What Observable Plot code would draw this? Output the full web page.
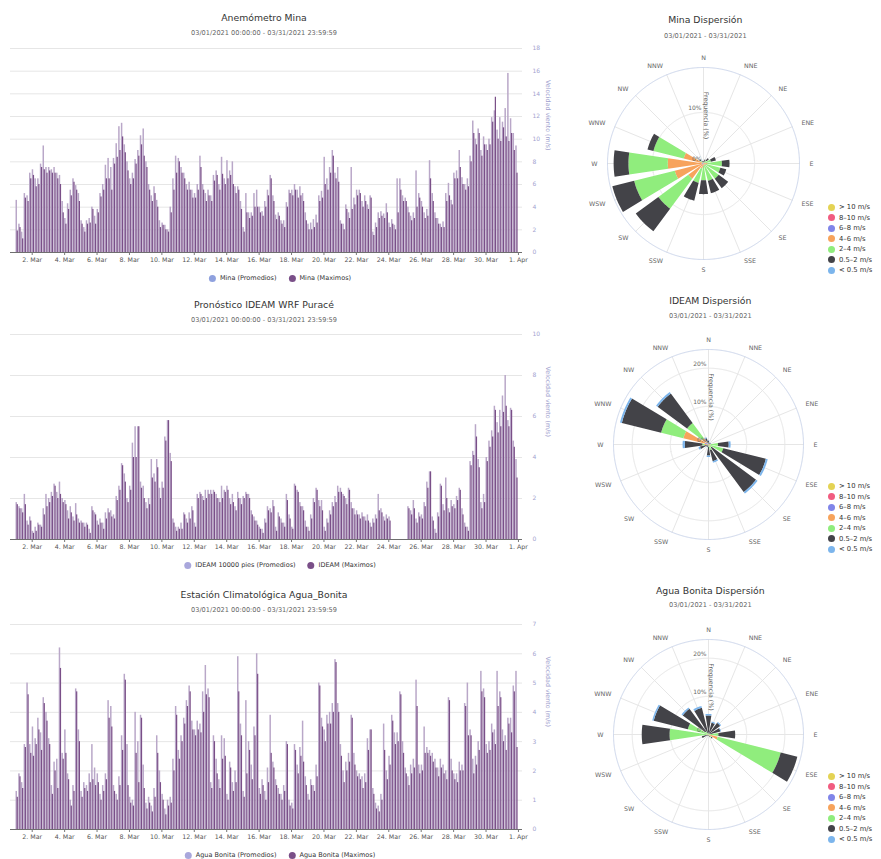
<!DOCTYPE html>
<html><head><meta charset="utf-8">
<script src="https://cdn.jsdelivr.net/npm/d3@7"></script>
<script src="https://cdn.jsdelivr.net/npm/@observablehq/plot@0.6"></script>
<style>
body{margin:0;background:#fff;font-family:"DejaVu Sans",sans-serif;}
#root{position:relative;width:881px;height:859px;overflow:hidden;background:#fff;}
.t{position:absolute;transform:translate(-50%,-50%);white-space:nowrap;color:#333;font-size:9.3px;}
.s{position:absolute;transform:translate(-50%,-50%);white-space:nowrap;color:#666;font-size:6.6px;}
.lg{position:absolute;transform:translate(-50%,-50%);white-space:nowrap;display:flex;align-items:center;gap:12px;font-size:6.5px;color:#333;}
.lg span.i{display:flex;align-items:center;gap:4px;}
.dot{display:inline-block;width:7px;height:7px;border-radius:50%;}
.rl{position:absolute;font-size:6.8px;color:#333;white-space:nowrap;}
.rl div{display:flex;align-items:center;gap:4px;height:10.5px;}
.pl{position:absolute;}
</style></head><body><div id="root"></div>
<script>
// ---------- bar chart data (6 values per day, 4-hour steps, Mar 1 - Mar 31 2021) ----------
const minaMax = [
1.9,2.2,1.2,4.8,4.5,6.5, 6.8,5.8,6.0,7.5,7.3,7.0, 7.2,7.0,7.0,6.5,6.0,3.5, 2.5,3.8,5.0,6.2,5.5,4.5,
2.5,1.8,2.5,2.6,3.8,2.5, 3.5,4.9,5.5,6.5,6.5,5.5, 7.8,8.4,9.0,10.2,8.8,7.2, 6.0,6.5,7.8,8.5,9.5,8.5,
7.5,5.5,4.5,5.2,4.0,2.2, 2.4,2.0,1.8,3.5,5.5,7.0, 8.0,7.0,6.5,5.5,5.5,4.8, 4.8,5.5,7.5,5.5,4.5,5.0,
4.5,6.3,6.8,5.5,6.9,6.0, 6.5,6.8,6.0,5.2,5.5,3.8, 1.8,3.5,3.0,3.2,4.0,4.0, 3.5,3.2,4.0,5.0,6.5,4.5,
2.9,3.2,2.5,2.2,4.0,5.2, 5.0,5.5,4.8,5.0,4.5,2.8, 2.0,2.0,2.2,2.6,4.5,4.8, 6.0,5.5,7.0,8.5,6.5,6.2,
2.5,2.0,3.8,3.0,3.8,4.2, 5.0,5.2,4.0,4.5,3.8,4.8, 1.5,2.2,3.0,3.2,3.0,3.5, 2.2,2.5,2.0,3.5,5.5,4.5,
4.5,3.5,2.8,3.0,4.0,4.8, 4.0,3.0,3.2,6.5,4.5,3.0, 2.5,2.2,2.2,4.5,5.0,4.2, 6.5,6.5,7.5,6.0,5.5,5.8,
8.0,10.5,9.5,10.5,8.5,9.5, 9.0,9.5,11.5,13.7,10.0,9.8, 11.0,10.2,9.8,10.5,9.0,7.0];
const minaProm = [
4.6,2.5,1.8,5.2,5.0,7.0, 7.3,6.5,6.5,7.8,9.4,7.5, 7.5,7.3,7.5,7.0,6.8,4.5, 3.0,4.3,5.5,6.5,5.9,5.2,
2.8,2.2,2.8,3.0,4.0,3.2, 3.8,5.2,6.0,7.7,8.3,7.5, 8.3,9.6,11.1,11.4,9.5,8.0, 6.5,7.0,8.2,9.0,10.3,10.9,
8.0,6.0,5.0,5.8,4.6,2.8, 2.6,2.4,2.0,4.0,6.5,8.5, 8.3,7.5,7.0,6.0,6.2,5.5, 5.2,6.0,8.5,6.0,5.2,5.5,
5.0,6.8,7.2,6.0,8.4,6.5, 8.1,7.2,8.0,5.8,5.8,4.5, 2.2,5.2,3.5,3.5,5.2,5.5, 4.0,3.6,4.5,5.5,6.8,5.0,
3.3,3.5,2.8,2.8,4.4,5.5, 5.5,6.0,5.5,5.8,5.2,3.5, 2.5,2.6,2.9,3.3,5.0,5.4, 8.4,6.5,7.5,9.0,7.0,7.5,
2.8,2.5,4.2,3.5,7.5,4.8, 5.5,5.5,4.5,5.0,4.2,5.0, 1.8,2.6,3.5,3.6,3.4,4.3, 2.6,2.9,2.4,6.5,6.5,5.0,
4.8,4.0,3.2,3.5,7.2,5.2, 4.5,3.5,3.8,8.1,5.2,3.5, 3.0,2.5,2.7,5.2,6.1,4.6, 7.0,7.2,9.0,6.6,6.0,6.5,
8.5,11.6,10.0,10.9,9.0,10.2, 9.5,10.0,11.9,12.5,10.8,11.9, 11.5,12.7,15.8,11.8,10.5,9.4];
const ideamMax = [
1.7,1.5,1.3,1.7,0.7,0.9, 0.3,0.4,0.7,0.6,1.2,1.6, 1.8,2.1,2.6,2.0,2.2,1.8, 1.7,1.0,1.3,0.9,1.2,0.8,
0.8,0.6,0.7,0.3,1.4,1.2, 0.7,0.8,0.5,1.0,1.3,1.1, 1.0,1.9,2.4,3.6,2.8,1.8, 2.4,4.0,4.0,5.5,2.5,2.0,
1.5,1.7,3.0,2.8,3.5,2.0, 2.5,4.8,5.8,3.8,0.8,0.4, 0.5,0.5,1.2,0.8,1.0,1.4, 0.6,2.0,2.2,1.9,2.0,2.2,
2.2,2.3,2.0,1.8,2.0,2.3, 2.4,1.7,1.8,1.4,2.0,1.7, 2.0,2.2,2.0,1.2,0.9,0.7, 0.5,0.3,0.8,1.4,1.3,1.6,
0.4,1.1,0.8,0.6,1.9,1.0, 0.5,2.6,2.3,1.6,1.4,0.6, 0.4,1.0,1.8,2.4,1.6,1.4, 0.4,0.8,1.2,1.6,1.8,2.3,
2.3,2.1,1.7,2.4,1.5,1.2, 1.2,1.0,1.1,0.9,0.9,0.6, 0.8,1.0,1.4,1.3,0.9,1.0, 0.9,null,null,null,null,null,
null,1.5,1.2,1.5,0.8,1.1, 1.0,1.6,2.5,3.3,0.9,0.3, 1.1,2.6,1.4,2.0,1.3,1.6, 1.5,1.9,2.4,1.2,0.6,0.4,
3.6,4.1,5.0,3.5,1.5,1.8, 3.8,4.5,5.0,6.3,5.2,5.5, 6.2,6.5,5.5,6.3,4.5,3.0];
const ideamProm = [
1.8,1.6,1.5,2.2,0.9,1.1, 0.4,0.6,0.8,0.7,1.5,2.2, 2.0,2.3,2.7,2.3,2.8,2.0, 1.9,1.4,1.6,1.1,1.75,1.0,
0.9,0.8,0.8,0.5,1.6,1.3, 0.9,1.0,0.8,1.3,1.5,1.4, 1.2,2.1,2.6,3.7,3.2,2.0, 2.6,4.7,5.5,5.5,2.8,2.6,
1.8,2.0,3.9,3.2,3.9,2.5, 2.8,5.0,5.8,4.2,1.0,0.6, 0.6,0.8,1.3,1.0,1.3,1.6, 0.8,2.2,2.3,2.1,2.4,2.4,
2.4,2.4,2.2,2.0,2.6,2.4, 2.6,2.0,2.2,1.6,2.3,2.0, 2.1,2.3,2.2,1.4,1.1,0.9, 0.6,0.5,1.0,1.6,1.5,1.9,
0.6,1.3,1.0,0.8,2.2,1.2, 0.6,2.7,2.4,1.8,1.6,0.9, 0.6,1.2,2.0,2.5,1.9,1.9, 0.6,1.0,1.4,1.8,2.1,2.6,
2.5,2.2,2.0,2.5,1.8,1.5, 1.4,1.2,1.3,1.1,1.2,0.8, 1.0,1.2,2.2,1.5,1.1,1.2, 1.1,null,null,null,null,null,
null,1.6,1.4,1.9,1.0,1.3, 1.2,1.8,2.8,3.3,1.1,0.5, 1.3,2.7,1.7,3.0,1.5,1.9, 1.7,2.1,2.5,1.5,0.8,0.6,
3.8,4.3,5.6,3.9,1.8,2.2, 4.0,4.8,5.3,6.5,5.7,6.3, 7.0,8.0,5.8,6.4,4.8,3.9];
const aguaMax = [
1.1,1.8,1.4,2.8,4.6,2.6, 2.5,2.9,3.4,2.7,4.3,3.7, 2.9,1.2,2.0,1.4,5.5,2.4, 2.6,1.7,0.8,1.3,4.7,3.0,
1.1,1.4,1.3,1.6,1.7,1.5, 1.6,1.0,1.3,1.7,3.8,3.5, 1.3,1.0,1.5,2.7,5.1,1.5, 0.9,0.8,2.6,1.6,3.8,1.4,
0.7,0.9,0.6,1.1,2.6,1.6, 1.0,0.5,0.8,0.9,2.0,3.9, 2.4,3.0,3.6,4.2,4.7,3.4, 3.2,3.4,3.3,4.0,4.6,4.5,
1.4,3.0,1.9,1.4,2.4,2.5, 1.0,2.1,1.3,1.6,4.7,3.2, 1.1,1.9,2.7,1.7,3.2,5.3, 1.2,1.5,1.0,1.6,2.6,2.1,
1.5,1.2,1.0,1.3,2.9,0.8, 0.7,2.7,1.9,2.5,2.3,1.5, 1.0,1.5,1.3,1.8,4.9,3.5, 3.0,3.6,3.6,4.0,5.7,4.0,
2.5,1.6,2.0,2.3,3.8,2.2, 1.8,1.7,1.4,1.6,2.7,3.4, 1.2,0.7,0.6,1.0,2.7,1.7, 2.2,3.7,2.9,3.0,4.6,2.6,
1.9,1.5,1.9,2.1,4.2,1.9, 2.0,2.6,2.6,2.5,2.3,2.1, 1.8,2.1,1.9,1.7,4.4,2.0, 1.7,1.6,2.0,2.0,4.2,3.2,
3.2,1.9,2.2,2.7,4.7,4.5, 2.6,2.7,3.3,2.9,4.2,4.5, 3.0,2.7,3.6,3.3,4.7,2.8];
const aguaProm = [
1.3,1.9,1.6,2.9,5.0,2.9, 3.5,3.1,3.8,3.3,4.5,4.0, 3.1,1.5,2.3,2.4,6.2,2.6, 3.4,1.9,1.0,1.5,4.8,3.4,
1.3,1.6,1.5,1.9,2.9,2.1, 1.9,1.2,1.5,1.9,4.4,4.2, 1.5,1.2,1.8,3.2,5.3,2.9, 1.1,1.0,4.0,3.0,3.9,2.2,
0.9,1.1,0.8,1.4,3.2,2.0, 1.2,0.7,1.0,1.1,2.4,4.2, 2.7,3.2,3.8,4.4,4.9,3.7, 3.4,3.7,3.6,4.7,5.6,4.8,
1.6,3.2,2.4,1.7,3.2,3.1, 1.2,2.3,1.6,2.0,5.9,3.6, 1.3,4.4,3.0,2.2,3.5,6.0, 1.4,1.7,1.3,2.1,3.9,2.3,
1.7,1.4,1.2,1.5,3.0,1.0, 0.9,2.9,2.2,2.8,3.7,1.8, 1.2,1.7,1.5,2.2,5.0,3.8, 3.4,3.9,4.0,4.3,5.8,4.3,
2.9,2.0,2.3,2.6,3.9,2.6, 2.0,1.9,1.8,1.9,3.1,3.4, 1.4,0.9,0.8,1.2,3.6,2.0, 2.5,3.9,3.3,3.3,4.7,3.0,
2.1,1.8,2.2,2.4,5.1,2.2, 2.2,3.5,2.8,2.7,2.6,2.4, 2.1,2.4,2.2,2.0,4.5,2.4, 1.9,1.9,2.3,2.2,4.3,5.0,
3.4,2.4,2.5,3.0,5.4,4.8, 2.9,3.0,3.6,3.4,5.4,4.7, 3.4,3.2,3.8,3.8,4.9,5.4];

const minaTicksY = [0,2,4,6,8,10,12,14,16,18];
const ideamTicksY = [0,2,4,6,8,10];
const aguaTicksY = [0,1,2,3,4,5,6,7];

// ---------- wind rose data (% frequency per direction, per speed bin) ----------
const compass = ["N","NNE","NE","ENE","E","ESE","SE","SSE","S","SSW","SW","WSW","W","WNW","NW","NNW"];
const binLabels = ["> 10 m/s","8–10 m/s","6–8 m/s","4–6 m/s","2–4 m/s","0.5–2 m/s","< 0.5 m/s"];
const binColors = ["#e4d354","#f15c80","#8085e9","#f7a35c","#90ed7d","#434348","#7cb5ec"];

const minaGt10 = [0,0,0,0,0,0,0,0,0,0,0,0,0,0,0,0];
const mina8_10 = [0,0,0,0,0,0,0,0,0,0,0,0,0,0,0,0];
const mina6_8  = [0,0,0,0,0,0,0,0,0,0,0.2,0.3,0.3,0.2,0,0];
const mina4_6  = [0,0.1,0.2,0.3,0.8,0.5,0.3,0.3,0.5,1.0,3.5,5.5,6.7,3.8,0.3,0.1];
const mina2_4  = [0.2,0.3,0.5,1.2,2.8,2.9,3.4,3.2,2.8,2.9,7.3,8.2,7.7,6.1,0.4,0.2];
const mina05_2 = [0.3,0.4,0.6,1.0,1.5,1.2,2.3,2.5,2.7,3.6,5.5,4.4,2.9,1.2,0.3,0.2];
const minaLt05 = [0,0,0,0,0,0,0,0,0,0,0,0,0,0,0,0];

const ideamGt10 = [0,0,0,0,0,0,0,0,0,0,0,0,0,0,0,0];
const ideam8_10 = [0,0,0,0,0,0,0,0,0,0,0,0,0,0,0,0];
const ideam6_8  = [0,0,0,0,0,0,0,0,0,0,0,0,0.3,1.0,0.5,0];
const ideam4_6  = [0,0,0,0,0.5,0.5,0.2,0.5,0.3,0,0,0.2,0.7,5.8,1.5,0.2];
const ideam2_4  = [0.2,0.1,0.1,0.2,2.0,3.5,0.8,1.0,0.3,0.2,0.2,0.3,0.6,6.0,5.0,0.3];
const ideam05_2 = [0.8,0.4,0.3,0.4,2.8,11.5,14.5,3.0,2.3,0.5,0.5,1.8,4.6,10.6,9.6,1.2];
const ideamLt05 = [0.2,0.1,0.1,0.1,0.5,0.5,0.5,0.4,0.4,0.1,0.1,0.4,0.6,0.5,0.5,0.2];

const aguaGt10 = [0,0,0,0,0,0,0,0,0,0,0,0,0,0,0,0];
const agua8_10 = [0,0,0,0,0,0,0,0,0,0,0,0,0,0,0,0];
const agua6_8  = [0,0,0,0,0,0,0,0,0,0,0,0,0,0,0,0];
const agua4_6  = [0,0,0,0,0,2.5,0.5,0.2,0,0,0,0,0.5,0.3,0,0];
const agua2_4  = [0.2,0.2,0.3,0.4,2.6,17.0,0.5,0.3,0.2,0.2,0.2,0.3,9.7,5.3,1.0,0.4];
const agua05_2 = [4.8,3.0,3.5,2.8,4.4,4.5,0.3,0.2,0.2,0.2,0.3,1.5,7.3,9.2,7.4,6.8];
const aguaLt05 = [0.4,0.3,0.3,0.2,0,0,0,0,0,0,0,0,0,0.4,0.4,0.5];

// ---------- helpers ----------
const root = document.getElementById("root");
function addDiv(cls, x, y, html) {
  const d = document.createElement("div");
  d.className = cls; d.style.left = x + "px"; d.style.top = y + "px"; d.innerHTML = html;
  root.appendChild(d); return d;
}
function place(svg, x, y) {
  const w = document.createElement("div"); w.className = "pl";
  w.style.left = x + "px"; w.style.top = y + "px"; w.appendChild(svg); root.appendChild(w);
}

const DAY = 864e5, SLOT = 4 * 3600e3;
const t0 = Date.UTC(2021, 2, 1), t1 = Date.UTC(2021, 3, 1);
const xTicks = d3.utcDay.range(new Date(Date.UTC(2021, 2, 2)), new Date(Date.UTC(2021, 3, 2)), 2);
const fmt = d3.utcFormat("%-d. %b");

function rows(arr, f1, f2) {
  return arr.map((v, k) => ({
    x1: new Date(t0 + k * SLOT + f1 * SLOT),
    x2: new Date(t0 + k * SLOT + f2 * SLOT),
    v
  }));
}

function barChart({prom, max, yTicks, plotTop, plotH, title, sub, titleY, subY, legY, promName, maxName, promColor}) {
  const mt = 8, mb = 28, H = mt + plotH + mb;
  const svg = Plot.plot({
    width: 560, height: H, marginLeft: 10, marginRight: 38, marginTop: mt, marginBottom: mb,
    style: {fontFamily: "DejaVu Sans", background: "transparent", overflow: "visible"},
    x: {type: "utc", domain: [new Date(t0 - 0.34 * DAY), new Date(t1 + 0.25 * DAY)]},
    y: {domain: [0, d3.max(yTicks)]},
    marks: [
      Plot.gridY(yTicks, {stroke: "#e6e6e6", strokeOpacity: 1}),
      Plot.rect(rows(prom, 0, 0.55), {x1: "x1", x2: "x2", y1: 0, y2: "v", fill: "#b9a7c8"}),
      Plot.rect(rows(max, 0.42, 1), {x1: "x1", x2: "x2", y1: 0, y2: "v", fill: "#7a4f88", insetRight: 0.35}),
      Plot.ruleY([0], {stroke: "#6f6f6f"}),
      Plot.axisX(xTicks, {tickFormat: fmt, tickSize: 3, tickPadding: 2, fontSize: 6.3, fill: "#555", stroke: "#777", label: null}),
      Plot.axisY(yTicks, {anchor: "right", tickSize: 0, tickPadding: 10, fontSize: 6, fill: "#a3a3cf", label: null}),
      Plot.text(["Velocidad viento (m/s)"], {text: d => d, frameAnchor: "right", rotate: 90, dx: 26, fontSize: 6.3, fill: "#a3a3cf"})
    ]
  });
  place(svg, 0, plotTop - mt);
  addDiv("t", 264, titleY, title);
  addDiv("s", 264, subY, sub);
  addDiv("lg", 280, legY,
    `<span class="i"><span class="dot" style="background:${promColor}"></span>${promName}</span>` +
    `<span class="i"><span class="dot" style="background:#7a4f88"></span>${maxName}</span>`);
}

function sector(lonC, hw, r1, r2) {
  const a = lonC - hw, b = lonC + hw, n = 16, inner = [], outer = [];
  for (let i = 0; i <= n; i++) {
    const lon = a + (b - a) * i / n;
    inner.push([lon, 90 - r1]); outer.push([lon, 90 - r2]);
  }
  return {type: "Polygon", coordinates: [[...inner, ...outer.reverse(), inner[0]]]};
}

function rose({bins, R, rpx, cx, cy, rings, title, sub, titleY, subY, legTop}) {
  const ext = 34, m = 6;                 // frame extends beyond the outer circle so labels stay inside
  const rExt = rpx + ext, S = 2 * rExt + 2 * m;
  const Rext = R * rExt / rpx;
  const feats = [];
  compass.forEach((name, i) => {
    const lon = 180 - i * 22.5;
    let acc = 0;
    bins.forEach((arr, b) => {
      const v = arr[i];
      if (v > 0) {
        feats.push({type: "Feature", properties: {bin: binLabels[b]}, geometry: sector(lon, 8.5, Math.max(acc, 0.03), acc + v)});
        acc += v;
      }
    });
  });
  const dirRows = compass.map((name, i) => ({name, a: i * 22.5, lon: 180 - i * 22.5}));
  const labLat = 90 - R * (rpx + 10) / rpx;
  const txt = {fontSize: 6.3, fill: "#666"};
  const svg = Plot.plot({
    width: S, height: S, margin: m,
    style: {fontFamily: "DejaVu Sans", background: "transparent", overflow: "visible"},
    projection: {type: "azimuthal-equidistant", rotate: [0, -90], domain: d3.geoCircle().center([0, 90]).radius(Rext)()},
    color: {domain: binLabels, range: binColors},
    marks: [
      Plot.geo(rings.filter(r => r > 0), {geometry: r => d3.geoCircle().center([0, 90]).radius(r).precision(0.5)(), fill: "none", stroke: "#e6e6e6"}),
      Plot.geo(dirRows, {geometry: d => ({type: "LineString", coordinates: [[d.lon, 90], [d.lon, 90 - R]]}), stroke: "#e6e6e6"}),
      Plot.geo(feats, {fill: d => d.properties.bin}),
      Plot.geo([R], {geometry: r => d3.geoCircle().center([0, 90]).radius(r).precision(0.5)(), fill: "none", stroke: "#ccd6eb"}),
      Plot.text(dirRows.filter(d => d.a > 0 && d.a < 180), {x: "lon", y: () => labLat, text: "name", textAnchor: "start", ...txt}),
      Plot.text(dirRows.filter(d => d.a > 180), {x: "lon", y: () => labLat, text: "name", textAnchor: "end", ...txt}),
      Plot.text(dirRows.filter(d => d.a === 0 || d.a === 180), {x: "lon", y: () => labLat, text: "name", textAnchor: "middle", ...txt}),
      Plot.text(rings, {x: () => 180, y: r => 90 - r, text: r => r + "%", textAnchor: "end", dx: -2, dy: -4, fontSize: 6, fill: "#666"}),
      Plot.text(["Frequencia (%)"], {x: () => 180, y: () => 90 - R / 2, text: d => d, rotate: 90, dx: 3, fontSize: 6.3, fill: "#666"})
    ]
  });
  place(svg, cx - rExt - m, cy - rExt - m);
  addDiv("t", cx + 2, titleY, title);
  addDiv("s", cx + 2, subY, sub);
  addDiv("rl", 828, legTop,
    binLabels.map((l, i) => `<div><span class="dot" style="background:${binColors[i]}"></span>${l}</div>`).join(""));
}

// ---------- draw ----------
const subFull = "03/01/2021 00:00:00 - 03/31/2021 23:59:59";
const subShort = "03/01/2021 - 03/31/2021";

barChart({prom: minaProm, max: minaMax, yTicks: minaTicksY, plotTop: 48, plotH: 204,
  title: "Anemómetro Mina", sub: subFull, titleY: 17, subY: 33, legY: 278,
  promName: "Mina (Promedios)", maxName: "Mina (Maximos)", promColor: "#8fa1de"});
barChart({prom: ideamProm, max: ideamMax, yTicks: ideamTicksY, plotTop: 334, plotH: 205,
  title: "Pronóstico IDEAM WRF Puracé", sub: subFull, titleY: 304, subY: 320, legY: 565,
  promName: "IDEAM 10000 pies (Promedios)", maxName: "IDEAM (Maximos)", promColor: "#a9a7dc"});
barChart({prom: aguaProm, max: aguaMax, yTicks: aguaTicksY, plotTop: 624, plotH: 205,
  title: "Estación Climatológica Agua_Bonita", sub: subFull, titleY: 594, subY: 610, legY: 855,
  promName: "Agua Bonita (Promedios)", maxName: "Agua Bonita (Maximos)", promColor: "#a9a7dc"});

rose({bins: [minaGt10, mina8_10, mina6_8, mina4_6, mina2_4, mina05_2, minaLt05], R: 18.8, rpx: 96,
  cx: 703.3, cy: 163.3, rings: [0, 10], title: "Mina Dispersión", sub: subShort, titleY: 19, subY: 36, legTop: 202});
rose({bins: [ideamGt10, ideam8_10, ideam6_8, ideam4_6, ideam2_4, ideam05_2, ideamLt05], R: 24.9, rpx: 95,
  cx: 708.3, cy: 444, rings: [0, 10, 20], title: "IDEAM Dispersión", sub: subShort, titleY: 300, subY: 316, legTop: 481});
rose({bins: [aguaGt10, agua8_10, agua6_8, agua4_6, agua2_4, agua05_2, aguaLt05], R: 24.9, rpx: 95,
  cx: 708.3, cy: 734, rings: [0, 10, 20], title: "Agua Bonita Dispersión", sub: subShort, titleY: 590, subY: 605, legTop: 771});
</script></body></html>
